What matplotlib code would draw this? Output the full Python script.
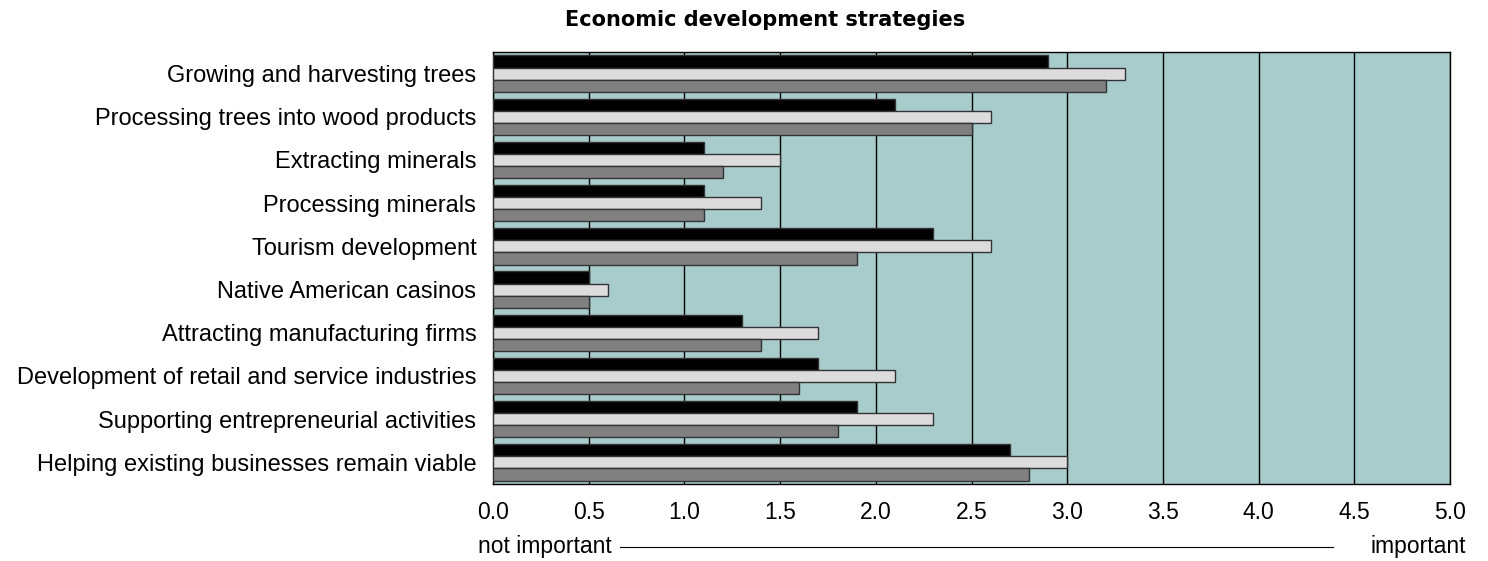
import numpy as np
import matplotlib.pyplot as plt

plt.rcParams['font.family'] = ['Liberation Sans', 'DejaVu Sans']

# Strategy labels, top to bottom
strategies = [
    "Growing and harvesting trees",
    "Processing trees into wood products",
    "Extracting minerals",
    "Processing minerals",
    "Tourism development",
    "Native American casinos",
    "Attracting manufacturing firms",
    "Development of retail and service industries",
    "Supporting entrepreneurial activities",
    "Helping existing businesses remain viable",
]
# three series per strategy (black, light grey, dark grey)
series_black = [2.9, 2.1, 1.1, 1.1, 2.3, 0.5, 1.3, 1.7, 1.9, 2.7]
series_light = [3.3, 2.6, 1.5, 1.4, 2.6, 0.6, 1.7, 2.1, 2.3, 3.0]
series_grey = [3.2, 2.5, 1.2, 1.1, 1.9, 0.5, 1.4, 1.6, 1.8, 2.8]
x_ticks = np.arange(0, 5.01, 0.5)

fig = plt.figure(figsize=(14.88, 5.61), dpi=100)
ax = fig.add_axes([0.3313, 0.1373, 0.6432, 0.77])
ax.set_facecolor("#a8cccc")

y = np.arange(len(strategies))
h = 0.28
ax.barh(y - h, series_black, height=h, color="#000000", edgecolor="#333333", linewidth=1, zorder=3)
ax.barh(y, series_light, height=h, color="#dcdcdc", edgecolor="#333333", linewidth=1, zorder=3)
ax.barh(y + h, series_grey, height=h, color="#808080", edgecolor="#333333", linewidth=1, zorder=3)

ax.set_xlim(0, 5)
ax.set_ylim(len(strategies) - 0.5, -0.5)
ax.set_xticks(x_ticks)
ax.set_xticklabels([f"{t:.1f}" for t in x_ticks], fontsize=16.5)
ax.set_yticks(y)
ax.set_yticklabels(strategies, fontsize=17)
ax.tick_params(axis="x", length=0, pad=12)
ax.tick_params(axis="y", length=0, pad=12)
ax.xaxis.grid(True, color="black", linewidth=1, zorder=0)
ax.set_axisbelow(True)
for s in ax.spines.values():
    s.set_color("black")
    s.set_linewidth(1)

# title and importance scale
fig.text(0.514, 0.965, "Economic development strategies", ha="center", va="center",
         fontsize=15, fontweight="heavy", family=["DejaVu Sans"])
fig.text(0.321, 0.025, "not important", ha="left", va="center", fontsize=16.5)
fig.text(0.985, 0.025, "important", ha="right", va="center", fontsize=16.5)
fig.add_artist(plt.Line2D([0.417, 0.896], [0.025, 0.025], color="black", linewidth=0.8))

fig.savefig("out.png", dpi=100)
